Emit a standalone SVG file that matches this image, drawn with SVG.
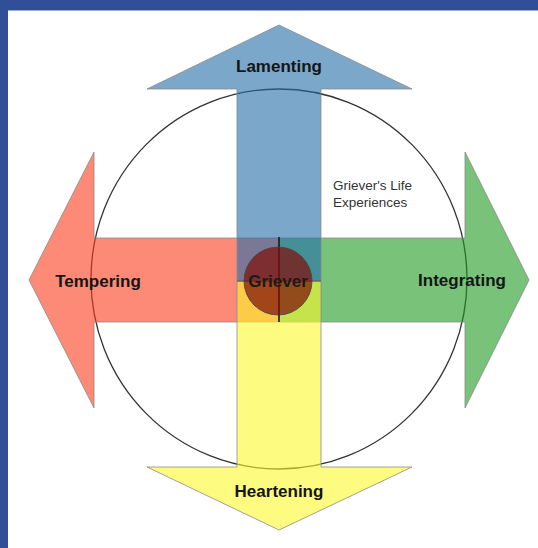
<svg xmlns="http://www.w3.org/2000/svg" width="538" height="548" viewBox="0 0 538 548">
<style>
.arrow{stroke:#8a8a8a;stroke-width:0.8;fill-opacity:0.6;stroke-linejoin:miter}
.lbl{font-family:"Liberation Sans",Arial,sans-serif;font-weight:bold;font-size:17px;fill:#151515;text-anchor:middle}
.note{font-family:"Liberation Sans",Arial,sans-serif;font-size:13.5px;fill:#333}
</style>
<rect x="0" y="0" width="538" height="548" fill="#ffffff"/>
<rect x="0" y="0" width="538" height="10" fill="#314f97"/>
<rect x="0" y="0" width="8" height="548" fill="#314f97"/>
<line x1="8" y1="10.5" x2="538" y2="10.5" stroke="#9aaad0" stroke-width="1"/>
<g id="life-experiences">
<ellipse cx="279" cy="279" rx="188" ry="190" fill="none" stroke="#333" stroke-width="1.3"/>
<text class="note" x="333" y="190">Griever's Life</text>
<text class="note" x="333" y="207">Experiences</text>
</g>
<g id="tempering">
<polygon class="arrow" fill="#fa3c1b" points="279,238 94,238 94,152 29,280 94,408 94,322 279,322"/>
<text class="lbl" x="98" y="287">Tempering</text>
</g>
<g id="integrating">
<polygon class="arrow" fill="#1e9921" points="279,238 465,238 465,152 529,280 465,408 465,322 279,322"/>
<text class="lbl" x="462" y="286">Integrating</text>
</g>
<g id="lamenting">
<polygon class="arrow" fill="#236ca8" points="237,281 237,89 147,89 279,25 412,89 321,89 321,281"/>
<text class="lbl" x="279" y="72">Lamenting</text>
</g>
<g id="heartening">
<polygon class="arrow" fill="#fcf82b" points="237,281 237,467 147,467 279,530 412,467 321,467 321,281"/>
<text class="lbl" x="279" y="497">Heartening</text>
</g>
<g id="connectors">
<line x1="237" y1="281" x2="321" y2="281" stroke="#555" stroke-width="1"/>
<line x1="279" y1="237" x2="279" y2="322" stroke="#1a1a1a" stroke-width="1.6"/>
</g>
<g id="griever">
<circle cx="278" cy="281" r="34" fill="#80100a" fill-opacity="0.72" stroke="#444" stroke-width="0.8"/>
<text class="lbl" x="278" y="287" style="fill:#1a1a1a">Griever</text>
</g>
</svg>
